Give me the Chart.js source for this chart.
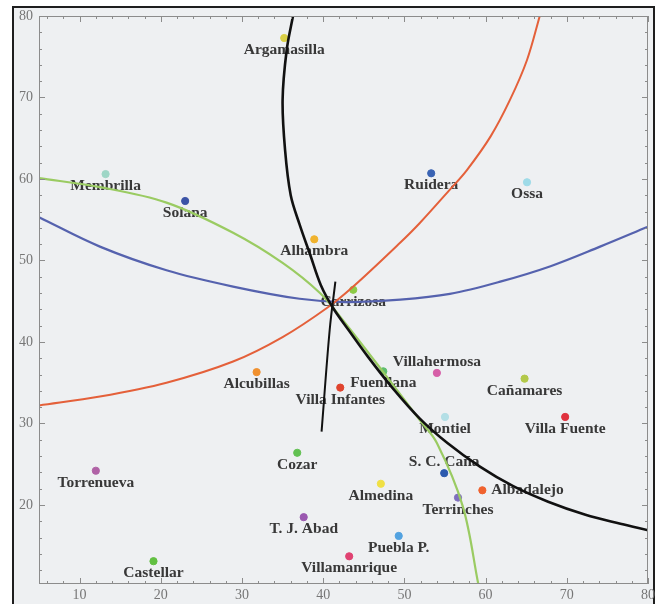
<!DOCTYPE html>
<html lang="es">
<head>
<meta charset="UTF-8">
<title>Localización por hipérbolas</title>
<script src="https://cdn.jsdelivr.net/npm/chart.js"></script>
<style>
  html, body { margin: 0; padding: 0; background: #fff; }
  canvas { display: block; }
</style>
</head>
<body>
<canvas id="chart" width="660" height="604"></canvas>
<script>
// pueblos (x, y en km)
const towns = ['Argamasilla', 'Membrilla', 'Solana', 'Alhambra', 'Ruidera', 'Ossa',
  'Carrizosa', 'Villahermosa', 'Fuenllana', 'Villa Infantes', 'Alcubillas', 'Cañamares',
  'Montiel', 'Villa Fuente', 'Cozar', 'S. C. Caña', 'Torrenueva', 'Almedina', 'Albadalejo',
  'Terrinches', 'T. J. Abad', 'Puebla P.', 'Castellar', 'Villamanrique'];
const townX = [35.2, 13.2, 23.0, 38.9, 53.3, 65.1, 43.7, 54.0, 47.4, 42.1, 31.8, 64.8,
  55.0, 69.8, 36.8, 54.9, 12.0, 47.1, 59.6, 56.6, 37.6, 49.3, 19.1, 43.2];
const townY = [77.3, 60.6, 57.3, 52.6, 60.7, 59.6, 46.4, 36.2, 36.4, 34.4, 36.3, 35.5,
  30.8, 30.8, 26.4, 23.9, 24.2, 22.6, 21.8, 20.9, 18.5, 16.2, 13.1, 13.7];
const townColors = ['#d9cf45', '#9ed6c6', '#3b53a6', '#f0b32e', '#3a64b4', '#9edbe8',
  '#8ccb46', '#d65fa8', '#5fbf6e', '#e0442e', '#f0902e', '#b3c94a',
  '#b3dfe6', '#e0323e', '#62c152', '#2b5aae', '#b062a6', '#f0e044', '#f0622e',
  '#7f6fbe', '#9a58b0', '#52a2e0', '#62c042', '#e04272'];
const labelSide = ['below', 'below', 'below', 'below', 'below', 'below',
  'below', 'above', 'below', 'below', 'below', 'below',
  'below', 'below', 'below', 'above', 'below', 'below', 'right',
  'below', 'below', 'below', 'below', 'below'];

// curvas
const blackX = [36.3, 35.5, 35.0, 35.3, 36.0, 37.1, 38.4, 39.7, 41.2, 43.1, 45.5, 48.5,
  51.9, 55.3, 59.3, 63.4, 67.7, 72.3, 76.6, 80.0];
const blackY = [80.1, 75.8, 69.7, 63.6, 58.0, 54.4, 50.7, 47.0, 44.2, 41.5, 38.2, 34.4,
  30.6, 27.6, 24.7, 22.3, 20.4, 18.8, 17.7, 16.9];
const orangeX = [5.0, 12.5, 20.7, 28.9, 35.0, 40.5, 43.7, 49.5, 51.9, 55.6, 57.7, 60.6,
  63.0, 65.1, 66.7];
const orangeY = [32.2, 33.3, 35.0, 37.6, 40.6, 44.2, 46.8, 52.2, 54.6, 58.7, 61.1, 65.2,
  69.7, 74.6, 80.1];
const blueX = [5.0, 12.5, 20.7, 28.9, 37.1, 42.7, 49.5, 55.6, 61.8, 68.0, 74.1, 79.9];
const blueY = [55.3, 51.7, 48.8, 46.8, 45.3, 44.9, 45.2, 45.9, 47.4, 49.3, 51.7, 54.1];
const greenX = [5.0, 12.5, 20.7, 28.9, 35.0, 39.6, 42.4, 47.4, 51.9, 54.0, 57.2, 59.1];
const greenY = [60.1, 59.0, 57.1, 53.4, 49.7, 46.0, 42.7, 36.3, 30.4, 27.6, 19.8, 10.3];
const segX = [41.5, 40.8, 39.8];
const segY = [47.4, 41.5, 29.0];

const pts = (xs, ys) => xs.map((x, i) => ({ x: x, y: ys[i] }));

const framePlugin = {
  id: 'frame',
  beforeDraw(chart) {
    const c = chart.ctx;
    c.save();
    c.fillStyle = '#ffffff';
    c.fillRect(0, 0, chart.width, chart.height);
    c.fillStyle = '#eef0f2';
    c.fillRect(13, 7, 641, 600);
    c.strokeStyle = '#1e1e1e';
    c.lineWidth = 2;
    c.strokeRect(13, 7, 641, 600);
    c.restore();
  },
  beforeDatasetsDraw(chart) {
    const c = chart.ctx, xs = chart.scales.x, ys = chart.scales.y;
    c.save();
    c.font = 'bold 15.5px "Liberation Serif", serif';
    c.fillStyle = '#383838';
    c.textBaseline = 'middle';
    towns.forEach((name, i) => {
      const px = xs.getPixelForValue(townX[i]);
      const py = ys.getPixelForValue(townY[i]);
      if (labelSide[i] === 'right') {
        c.textAlign = 'left';
        c.fillText(name, px + 9, py);
      } else {
        c.textAlign = 'center';
        c.fillText(name, px, labelSide[i] === 'above' ? py - 11 : py + 12);
      }
    });
    c.restore();
  },
  afterDatasetsDraw(chart) {
    const c = chart.ctx, a = chart.chartArea, xs = chart.scales.x, ys = chart.scales.y;
    c.save();
    c.strokeStyle = '#8c8c8c';
    c.lineWidth = 1;
    c.strokeRect(a.left + 0.5, a.top + 0.5, a.right - a.left - 1, a.bottom - a.top - 1);
    c.beginPath();
    for (let v = 6; v <= 80; v += 2) {
      const p = Math.round(xs.getPixelForValue(v)) + 0.5;
      const len = v % 10 === 0 ? 6 : 3;
      c.moveTo(p, a.bottom); c.lineTo(p, a.bottom - len);
      c.moveTo(p, a.top); c.lineTo(p, a.top + len);
    }
    for (let v = 12; v <= 80; v += 2) {
      const p = Math.round(ys.getPixelForValue(v)) + 0.5;
      const len = v % 10 === 0 ? 6 : 3;
      c.moveTo(a.left, p); c.lineTo(a.left + len, p);
      c.moveTo(a.right, p); c.lineTo(a.right - len, p);
    }
    c.stroke();
    c.restore();
  }
};

const line = (xs, ys, color, width, order) => ({
  type: 'line',
  data: pts(xs, ys),
  borderColor: color,
  borderWidth: width,
  pointRadius: 0,
  tension: 0.35,
  fill: false,
  order: order
});

new Chart(document.getElementById('chart'), {
  type: 'scatter',
  data: {
    datasets: [
      line(blackX, blackY, '#111111', 2.6, 0),
      line(segX, segY, '#111111', 2, 0),
      line(orangeX, orangeY, '#e4603a', 2, 1),
      line(greenX, greenY, '#9acb62', 2.2, 2),
      line(blueX, blueY, '#5562ae', 2.2, 3),
      {
        data: pts(townX, townY),
        pointBackgroundColor: townColors,
        pointBorderColor: townColors,
        pointRadius: 3.6,
        order: 10
      }
    ]
  },
  options: {
    responsive: false,
    animation: false,
    layout: { padding: { left: 0, right: 12, top: 16, bottom: 0 } },
    plugins: { legend: { display: false }, tooltip: { enabled: false } },
    scales: {
      x: {
        type: 'linear', min: 5, max: 80,
        grid: { display: false, drawTicks: false },
        border: { display: false },
        ticks: { stepSize: 10, includeBounds: false, padding: 3, color: '#767676',
          font: { family: '"Liberation Serif", serif', size: 14 } },
        afterFit(s) { s.height = 20; }
      },
      y: {
        type: 'linear', min: 10.3, max: 80,
        grid: { display: false, drawTicks: false },
        border: { display: false },
        ticks: { stepSize: 10, includeBounds: false, padding: 6, color: '#767676',
          font: { family: '"Liberation Serif", serif', size: 14 } },
        afterFit(s) { s.width = 39; }
      }
    }
  },
  plugins: [framePlugin]
});
</script>
</body>
</html>
